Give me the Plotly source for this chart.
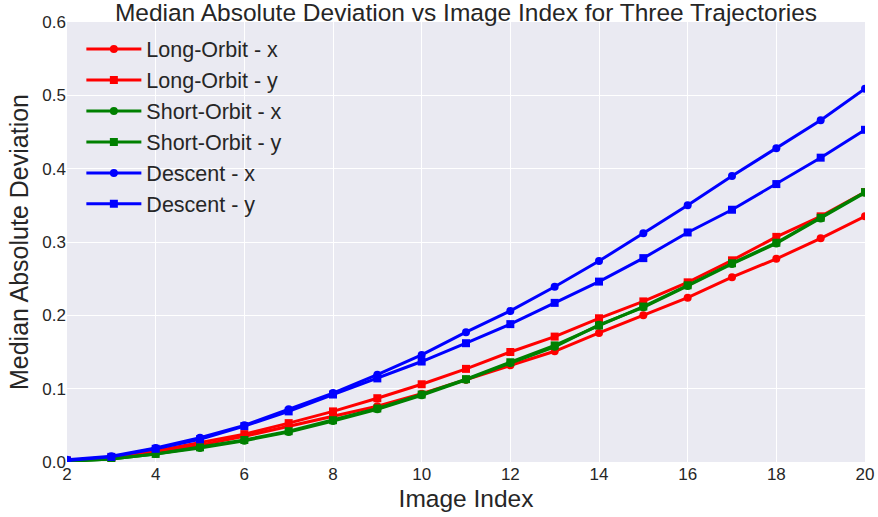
import plotly.graph_objects as go

image_index = list(range(2, 21))

long_orbit_x = [0.002, 0.005, 0.013, 0.023, 0.035, 0.049, 0.063, 0.076, 0.093, 0.112,
                0.132, 0.151, 0.176, 0.200, 0.224, 0.252, 0.277, 0.305, 0.335]
long_orbit_y = [0.002, 0.006, 0.015, 0.026, 0.038, 0.053, 0.069, 0.087, 0.106, 0.127,
                0.150, 0.171, 0.196, 0.219, 0.245, 0.275, 0.307, 0.335, 0.368]
short_orbit_x = [0.001, 0.004, 0.011, 0.019, 0.029, 0.041, 0.056, 0.072, 0.091, 0.112,
                 0.135, 0.157, 0.187, 0.211, 0.240, 0.270, 0.298, 0.332, 0.367]
short_orbit_y = [0.001, 0.004, 0.011, 0.020, 0.030, 0.042, 0.057, 0.073, 0.092, 0.113,
                 0.136, 0.159, 0.186, 0.212, 0.241, 0.271, 0.299, 0.333, 0.368]
descent_x = [0.003, 0.008, 0.019, 0.033, 0.050, 0.072, 0.094, 0.119, 0.146, 0.177,
             0.206, 0.239, 0.274, 0.312, 0.350, 0.390, 0.428, 0.466, 0.509]
descent_y = [0.002, 0.007, 0.018, 0.031, 0.049, 0.069, 0.092, 0.114, 0.137, 0.162,
             0.188, 0.217, 0.246, 0.278, 0.313, 0.344, 0.379, 0.415, 0.453]

series = [
    ("Long-Orbit - x", long_orbit_x, "#FF0000", "circle"),
    ("Long-Orbit - y", long_orbit_y, "#FF0000", "square"),
    ("Short-Orbit - x", short_orbit_x, "#008000", "circle"),
    ("Short-Orbit - y", short_orbit_y, "#008000", "square"),
    ("Descent - x", descent_x, "#0000FF", "circle"),
    ("Descent - y", descent_y, "#0000FF", "square"),
]

fig = go.Figure()
for name, vals, color, sym in series:
    fig.add_trace(go.Scatter(
        x=image_index, y=vals, name=name, mode="lines+markers",
        line=dict(color=color, width=3),
        marker=dict(symbol=sym, size=8, color=color, line=dict(width=0)),
    ))

text_color = "#262626"
fig.update_layout(
    width=878, height=517,
    margin=dict(l=67, r=13, t=22, b=55),
    paper_bgcolor="white",
    plot_bgcolor="#EAEAF2",
    font=dict(family="Liberation Sans, Arial, sans-serif", color=text_color, size=17),
    title=dict(
        text="Median Absolute Deviation vs Image Index for Three Trajectories",
        font=dict(family="Liberation Sans, sans-serif", size=24.5, color=text_color),
        x=0.5, xanchor="center", xref="paper", y=0.976, yanchor="middle", yref="container",
    ),
    xaxis=dict(
        range=[2, 20], tickmode="array", tickvals=[2, 4, 6, 8, 10, 12, 14, 16, 18, 20],
        showgrid=True, gridcolor="white", gridwidth=1, zeroline=False,
        ticks="", showline=False, automargin=False,
        title=dict(text="Image Index", font=dict(size=24.5, color=text_color), standoff=6),
        tickfont=dict(size=17, color=text_color),
    ),
    yaxis=dict(
        range=[0, 0.6], tickmode="array", tickvals=[0, 0.1, 0.2, 0.3, 0.4, 0.5, 0.6],
        tickformat=".1f",
        showgrid=True, gridcolor="white", gridwidth=1, zeroline=False,
        ticks="", showline=False, automargin=False,
        title=dict(text="Median Absolute Deviation", font=dict(size=25, color=text_color), standoff=6),
        tickfont=dict(size=17, color=text_color),
    ),
    legend=dict(
        x=0.018, y=0.985, xanchor="left", yanchor="top", itemwidth=55,
        bgcolor="rgba(0,0,0,0)", font=dict(size=21.5, color=text_color),
    ),
)

fig.write_html("out.html")
